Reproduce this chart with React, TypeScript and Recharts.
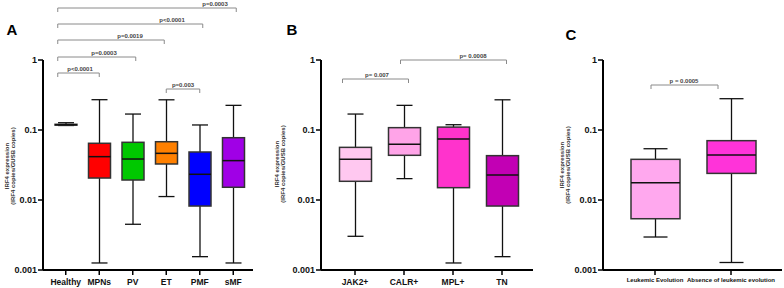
import { ComposedChart, Bar, XAxis, YAxis } from 'recharts'

const FONT = 'Arial, "Liberation Sans", Helvetica, sans-serif'
const Y_TICKS = [0.001, 0.01, 0.1, 1]

// Panel A - IRF4 expression by diagnosis
const groupsA = ['Healthy', 'MPNs', 'PV', 'ET', 'PMF', 'sMF']
const minA = [0.116, 0.00126, 0.0045, 0.0112, 0.00155, 0.00126]
const q1A = [0.1175, 0.0206, 0.0193, 0.0327, 0.0082, 0.0152]
const medA = [0.119, 0.0416, 0.0385, 0.0464, 0.0233, 0.0365]
const q3A = [0.1205, 0.0646, 0.0667, 0.068, 0.0485, 0.0776]
const maxA = [0.127, 0.271, 0.169, 0.27, 0.118, 0.225]
const colorsA = ['#8a8a8a', '#ff0000', '#00c800', '#ff8000', '#0000ff', '#a000e6']

// Panel B - by driver mutation
const groupsB = ['JAK2+', 'CALR+', 'MPL+', 'TN']
const minB = [0.00303, 0.0202, 0.00126, 0.00155]
const q1B = [0.0185, 0.0435, 0.015, 0.0082]
const medB = [0.0381, 0.0624, 0.0744, 0.0228]
const q3B = [0.0565, 0.108, 0.11, 0.043]
const maxB = [0.169, 0.225, 0.119, 0.27]
const colorsB = ['#ffc8f0', '#ffa4e8', '#ff33cc', '#c200b4']

// Panel C - leukemic evolution
const groupsC = ['Leukemic Evolution', 'Absence of leukemic evolution']
const minC = [0.00296, 0.00128]
const q1C = [0.0054, 0.024]
const medC = [0.0177, 0.044]
const q3C = [0.0381, 0.0704]
const maxC = [0.054, 0.28]
const colorsC = ['#ffa8ee', '#ff33d9']

const build = (g: string[], mn: number[], q1: number[], md: number[], q3: number[], mx: number[], c: string[]) =>
    g.map((name, i) => ({ name, min: mn[i], q1: q1[i], med: md[i], q3: q3[i], max: mx[i], color: c[i] }))

const dataA = build(groupsA, minA, q1A, medA, q3A, maxA, colorsA)
const dataB = build(groupsB, minB, q1B, medB, q3B, maxB, colorsB)
const dataC = build(groupsC, minC, q1C, medC, q3C, maxC, colorsC)

// box + whisker drawn inside the [min, max] range bar
function BoxShape(props: any) {
    const { x, y, width, height, cap } = props
    const d = props.payload ?? props
    const top = Math.min(y, y + height)
    const bot = Math.max(y, y + height)
    const lmax = Math.log10(d.max)
    const span = lmax - Math.log10(d.min)
    const py = (v: number) => (span === 0 ? top : top + ((bot - top) * (lmax - Math.log10(v))) / span)
    const cx = x + width / 2
    const yq1 = py(d.q1)
    const yq3 = py(d.q3)
    const ym = py(d.med)
    return (
        <g>
            <line x1={cx} x2={cx} y1={top} y2={bot} stroke="#111" strokeWidth={1.3} />
            <line x1={cx - cap / 2} x2={cx + cap / 2} y1={top} y2={top} stroke="#111" strokeWidth={1.3} />
            <line x1={cx - cap / 2} x2={cx + cap / 2} y1={bot} y2={bot} stroke="#111" strokeWidth={1.3} />
            <rect x={x} y={yq3} width={width} height={Math.max(yq1 - yq3, 0.5)} fill={d.color} stroke="#333" strokeWidth={1.5} />
            <line x1={x} x2={x + width} y1={ym} y2={ym} stroke="#111" strokeWidth={1.5} />
        </g>
    )
}

// plain text ticks so labels stay bold and on one line
const XTick = ({ x, y, payload, fs }: any) => (
    <text x={x} y={y + fs} textAnchor="middle" style={{ fontSize: fs, fontWeight: 700, fontFamily: FONT }} fill="#111">
        {payload.value}
    </text>
)
const YTick = ({ x, y, payload }: any) => (
    <text x={x} y={y + 3} textAnchor="end" style={{ fontSize: 9, fontWeight: 700, fontFamily: FONT }} fill="#111">
        {String(payload.value)}
    </text>
)

interface PanelProps {
    data: any[]
    left: number
    width: number
    yWidth: number
    marginRight: number
    padding: { left: number; right: number }
    barSize: number
    cap: number
    xFont: number
}

function Panel({ data, left, width, yWidth, marginRight, padding, barSize, cap, xFont }: PanelProps) {
    return (
        <div style={{ position: 'absolute', left, top: 0 }}>
            <ComposedChart width={width} height={288} data={data} margin={{ top: 60, right: marginRight, bottom: 0, left: 0 }}>
                <XAxis
                    dataKey="name"
                    interval={0}
                    padding={padding}
                    height={18}
                    tickSize={5}
                    tickMargin={1}
                    axisLine={{ stroke: '#000', strokeWidth: 2 }}
                    tickLine={{ stroke: '#000', strokeWidth: 1.5 }}
                    tick={<XTick fs={xFont} />}
                />
                <YAxis
                    scale="log"
                    domain={[0.001, 1]}
                    ticks={Y_TICKS}
                    allowDataOverflow
                    width={yWidth}
                    tickSize={5}
                    tickMargin={1}
                    axisLine={{ stroke: '#000', strokeWidth: 2 }}
                    tickLine={{ stroke: '#000', strokeWidth: 1.5 }}
                    tick={<YTick />}
                />
                <Bar
                    dataKey={(d: any) => [d.min, d.max]}
                    barSize={barSize}
                    isAnimationActive={false}
                    shape={(p: any) => <BoxShape {...p} cap={cap} />}
                />
            </ComposedChart>
        </div>
    )
}

// category centre in page pixels, same layout as the XAxis above
const catX = (plotLeft: number, plotW: number, pad: { left: number; right: number }, n: number, i: number) =>
    plotLeft + pad.left + ((plotW - pad.left - pad.right) / n) * (i + 0.5)

const padA = { left: 6, right: 3 }
const padB = { left: 9.5, right: 6.5 }
const padC = { left: 14, right: 13 }
const cA = (i: number) => catX(43, 210, padA, groupsA.length, i)
const cB = (i: number) => catX(321, 212, padB, groupsB.length, i)
const cC = (i: number) => catX(603, 179, padC, groupsC.length, i)

const brackets = [
    { x1: cA(0) - 8, x2: cA(1), y: 73, tx: 80, text: 'p<0.0001' },
    { x1: cA(0) - 8, x2: cA(2) + 3, y: 57, tx: 104, text: 'p=0.0003' },
    { x1: cA(0) - 8, x2: cA(3) - 2, y: 40, tx: 130, text: 'p=0.0019' },
    { x1: cA(0) - 8, x2: cA(4) + 3, y: 24, tx: 172, text: 'p<0.0001' },
    { x1: cA(0) - 8, x2: cA(5) + 3, y: 8, tx: 215, text: 'p=0.0003' },
    { x1: cA(3), x2: cA(4), y: 89, tx: 183, text: 'p=0.003' },
    { x1: cB(0) - 12.5, x2: cB(1) + 4.5, y: 79, tx: 377, text: 'p= 0.007' },
    { x1: cB(1) - 3.5, x2: cB(3) + 4.5, y: 60, tx: 473, text: 'p= 0.0008' },
    { x1: cC(0) - 4, x2: cC(1) - 13, y: 85, tx: 684, text: 'p = 0.0005' },
]

function YLabel({ x, y }: { x: number; y: number }) {
    const st = { fontSize: 6, fontWeight: 700, fontFamily: FONT }
    return (
        <g fill="#333">
            <text x={x} y={y} transform={`rotate(-90 ${x} ${y})`} textAnchor="middle" style={st}>IRF4 expression</text>
            <text x={x + 6} y={y} transform={`rotate(-90 ${x + 6} ${y})`} textAnchor="middle" style={st}>(IRF4 copies/GUSB copies)</text>
        </g>
    )
}

export default function App() {
    const letter = { fontSize: 15, fontWeight: 700, fontFamily: FONT }
    return (
        <div style={{ position: 'absolute', left: 0, top: 0, width: 784, height: 288, background: '#fff', overflow: 'hidden' }}>
            <Panel data={dataA} left={0} width={260} yWidth={43} marginRight={7} padding={padA} barSize={22} cap={16} xFont={8.5} />
            <Panel data={dataB} left={280} width={260} yWidth={41} marginRight={7} padding={padB} barSize={32} cap={16} xFont={8.5} />
            <Panel data={dataC} left={560} width={224} yWidth={43} marginRight={2} padding={padC} barSize={49} cap={24} xFont={6} />
            <svg width={784} height={288} style={{ position: 'absolute', left: 0, top: 0, pointerEvents: 'none' }}>
                <text x={12} y={35} textAnchor="middle" style={letter}>A</text>
                <text x={292} y={35} textAnchor="middle" style={letter}>B</text>
                <text x={571} y={40} textAnchor="middle" style={letter}>C</text>
                <YLabel x={9} y={166} />
                <YLabel x={279} y={164} />
                <YLabel x={564} y={165} />
                {brackets.map((b, i) => (
                    <g key={i}>
                        <polyline
                            points={`${b.x1},${b.y + 4} ${b.x1},${b.y} ${b.x2},${b.y} ${b.x2},${b.y + 4}`}
                            fill="none"
                            stroke="#8a8a8a"
                            strokeWidth={1}
                        />
                        <text x={b.tx} y={b.y - 2} textAnchor="middle" fill="#444" style={{ fontSize: 6, fontWeight: 700, fontFamily: FONT }}>
                            {b.text}
                        </text>
                    </g>
                ))}
            </svg>
        </div>
    )
}
